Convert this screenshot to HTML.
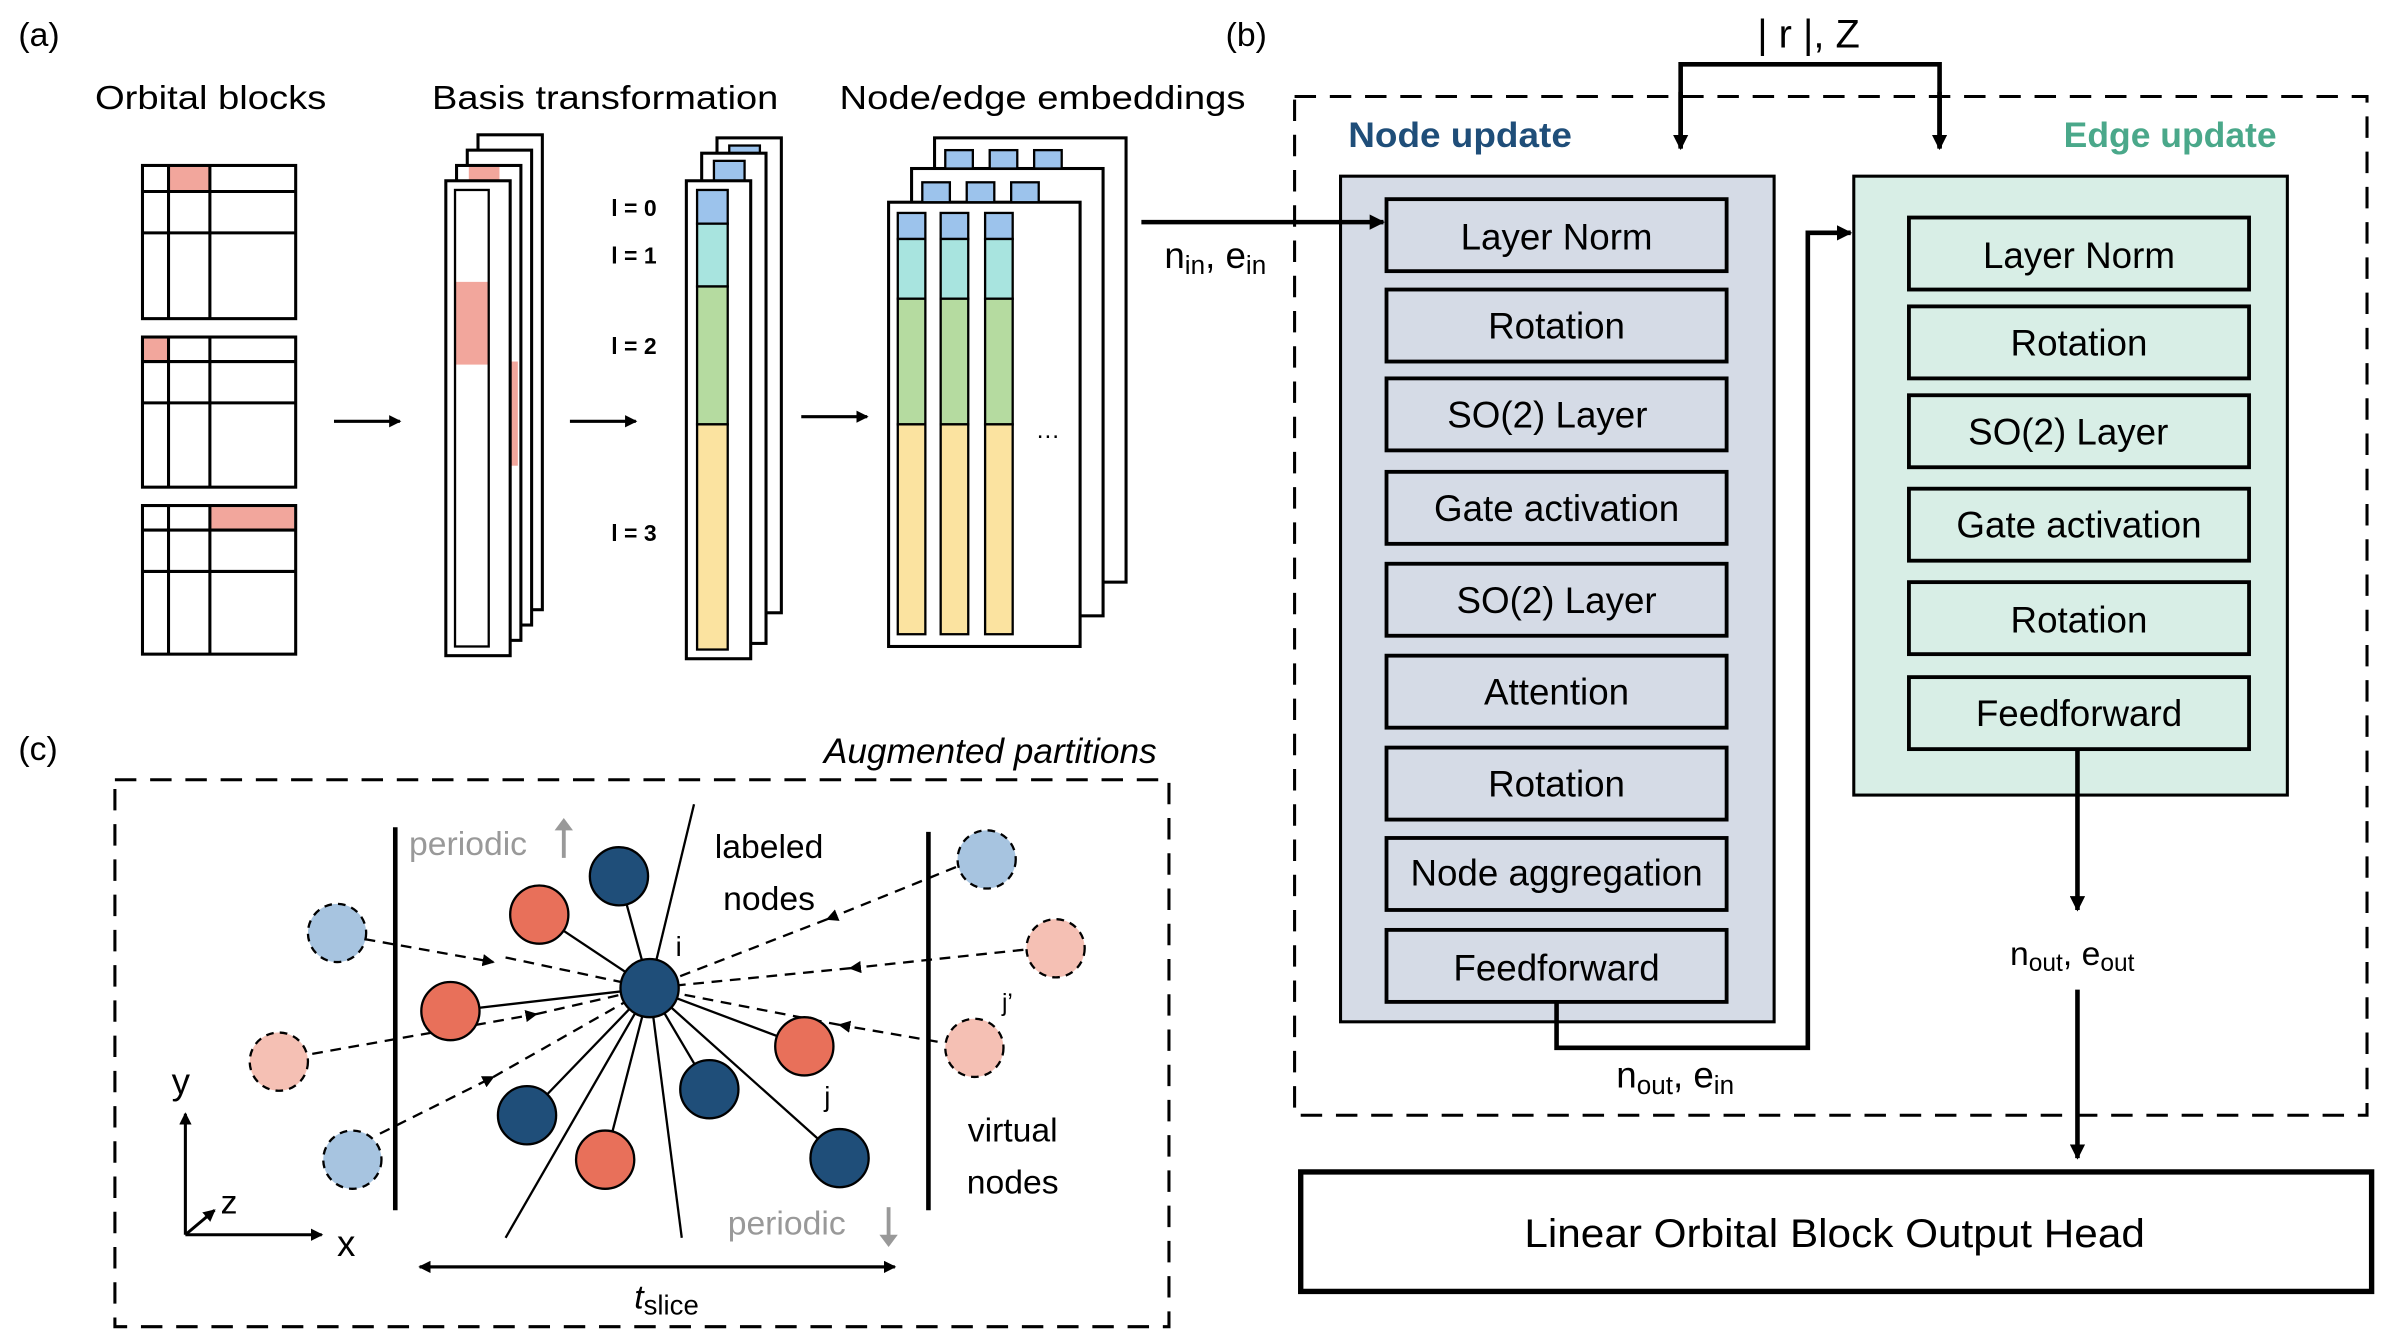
<!DOCTYPE html>
<html><head><meta charset="utf-8"><style>html,body{margin:0;padding:0;background:#fff}svg{display:block}text{font-family:"Liberation Sans",sans-serif}</style></head><body>
<svg width="2390" height="1338" viewBox="0 0 1560 873.4" preserveAspectRatio="none" xmlns="http://www.w3.org/2000/svg">
<defs>
<marker id="ah" markerWidth="10" markerHeight="10" refX="9" refY="5" orient="auto" markerUnits="userSpaceOnUse"><path d="M0,0 L10,5 L0,10 z" fill="#000"/></marker>
<marker id="ah2" markerWidth="8" markerHeight="8" refX="7" refY="4" orient="auto" markerUnits="userSpaceOnUse"><path d="M0,0 L8,4 L0,8 z" fill="#000"/></marker>
</defs>
<g font-size="22">
<text x="12" y="30">(a)</text>
<text x="62" y="71" textLength="151" lengthAdjust="spacingAndGlyphs">Orbital blocks</text>
<text x="282" y="71" textLength="226" lengthAdjust="spacingAndGlyphs">Basis transformation</text>
<text x="548" y="71" textLength="265" lengthAdjust="spacingAndGlyphs">Node/edge embeddings</text>
</g>
<!-- orbital blocks -->
<g stroke="#000" stroke-width="2" fill="none">
<rect x="110" y="109" width="27" height="16" fill="#f2a69c" stroke="none"/>
<rect x="93" y="108" width="100" height="100"/>
<line x1="110" y1="108" x2="110" y2="208"/><line x1="137" y1="108" x2="137" y2="208"/>
<line x1="93" y1="125" x2="193" y2="125"/><line x1="93" y1="152" x2="193" y2="152"/>
<rect x="94" y="221" width="16" height="15" fill="#f2a69c" stroke="none"/>
<rect x="93" y="220" width="100" height="98"/>
<line x1="110" y1="220" x2="110" y2="318"/><line x1="137" y1="220" x2="137" y2="318"/>
<line x1="93" y1="236" x2="193" y2="236"/><line x1="93" y1="263" x2="193" y2="263"/>
<rect x="137" y="331" width="55" height="15" fill="#f2a69c" stroke="none"/>
<rect x="93" y="330" width="100" height="97"/>
<line x1="110" y1="330" x2="110" y2="427"/><line x1="137" y1="330" x2="137" y2="427"/>
<line x1="93" y1="346" x2="193" y2="346"/><line x1="93" y1="373" x2="193" y2="373"/>
</g>
<g stroke="#000" stroke-width="2">
<line x1="218" y1="275" x2="261" y2="275" marker-end="url(#ah2)"/>
<line x1="372" y1="275" x2="415" y2="275" marker-end="url(#ah2)"/>
<line x1="523" y1="272" x2="566" y2="272" marker-end="url(#ah2)"/>
</g>
<!-- basis transformation -->
<g stroke="#000" stroke-width="2" fill="#fff">
<rect x="312" y="88" width="42" height="310"/>
<rect x="305" y="98" width="42" height="310"/>
<rect x="298" y="108" width="42" height="310"/>
<rect x="306" y="109" width="20" height="20" fill="#f2a69c" stroke="none"/>
<rect x="326" y="236" width="12" height="68" fill="#f2a69c" stroke="none"/>
<rect x="291" y="118" width="42" height="310"/>
<rect x="297" y="184" width="22" height="54" fill="#f2a69c" stroke="none"/>
<rect x="297" y="124" width="22" height="298" fill="none" stroke-width="1.5"/>
</g>
<g font-size="15" font-weight="bold"><text x="399" y="141">l = 0</text><text x="399" y="172">l = 1</text><text x="399" y="231">l = 2</text><text x="399" y="353">l = 3</text></g>
<g stroke="#000" stroke-width="2" fill="#fff">
<rect x="468" y="90" width="42" height="310"/>
<rect x="476" y="95" width="20" height="12" fill="#9cc3ec" stroke-width="1.5"/>
<rect x="458" y="100" width="42" height="320"/>
<rect x="466" y="105" width="20" height="14" fill="#9cc3ec" stroke-width="1.5"/>
<rect x="448" y="118" width="42" height="312"/>
</g>
<g stroke="#000" stroke-width="1.5">
<rect x="455" y="124" width="20" height="22" fill="#9cc3ec"/>
<rect x="455" y="146" width="20" height="41" fill="#a8e4df"/>
<rect x="455" y="187" width="20" height="90" fill="#b5dba0"/>
<rect x="455" y="277" width="20" height="147" fill="#fbe3a0"/>
</g>
<!-- embeddings -->
<g stroke="#000" stroke-width="2" fill="#fff">
<rect x="610" y="90" width="125" height="290"/>
<rect x="595" y="110" width="125" height="292"/>
<rect x="580" y="132" width="125" height="290"/>
</g>
<g stroke="#000" stroke-width="1.5" fill="#9cc3ec">
<rect x="617" y="98" width="18" height="12"/><rect x="646" y="98" width="18" height="12"/><rect x="675" y="98" width="18" height="12"/>
<rect x="602" y="119" width="18" height="13"/><rect x="631" y="119" width="18" height="13"/><rect x="660" y="119" width="18" height="13"/>
</g>
<g stroke="#000" stroke-width="1.5">
<g transform="translate(586,0)"><rect x="0" y="139" width="18" height="17" fill="#9cc3ec"/><rect x="0" y="156" width="18" height="39" fill="#a8e4df"/><rect x="0" y="195" width="18" height="82" fill="#b5dba0"/><rect x="0" y="277" width="18" height="137" fill="#fbe3a0"/></g>
<g transform="translate(614,0)"><rect x="0" y="139" width="18" height="17" fill="#9cc3ec"/><rect x="0" y="156" width="18" height="39" fill="#a8e4df"/><rect x="0" y="195" width="18" height="82" fill="#b5dba0"/><rect x="0" y="277" width="18" height="137" fill="#fbe3a0"/></g>
<g transform="translate(643,0)"><rect x="0" y="139" width="18" height="17" fill="#9cc3ec"/><rect x="0" y="156" width="18" height="39" fill="#a8e4df"/><rect x="0" y="195" width="18" height="82" fill="#b5dba0"/><rect x="0" y="277" width="18" height="137" fill="#fbe3a0"/></g>
</g>
<text x="676" y="286" font-size="16">…</text>
<!-- panel b -->
<text x="800" y="30" font-size="22">(b)</text>
<rect x="845" y="63" width="700" height="665" fill="none" stroke="#000" stroke-width="2" stroke-dasharray="14,9"/>
<text x="1147" y="31" font-size="26">| r |, Z</text>
<polyline points="1097,96 1097,42 1266,42 1266,96" fill="none" stroke="#000" stroke-width="3"/>
<line x1="1097" y1="60" x2="1097" y2="97" stroke="#000" stroke-width="3" marker-end="url(#ah)"/>
<line x1="1266" y1="60" x2="1266" y2="97" stroke="#000" stroke-width="3" marker-end="url(#ah)"/>
<text x="880" y="96" font-size="23" font-weight="bold" fill="#1f4e79" textLength="146" lengthAdjust="spacingAndGlyphs">Node update</text>
<text x="1347" y="96" font-size="23" font-weight="bold" fill="#4aa88a" textLength="139" lengthAdjust="spacingAndGlyphs">Edge update</text>
<rect x="875" y="115" width="283" height="552" fill="#d5dbe6" stroke="#000" stroke-width="2"/>
<rect x="1210" y="115" width="283" height="404" fill="#d8eee6" stroke="#000" stroke-width="2"/>
<g stroke="#000" stroke-width="2.5" fill="none">
<rect x="905" y="130" width="222" height="47"/><rect x="905" y="189" width="222" height="47"/><rect x="905" y="247" width="222" height="47"/>
<rect x="905" y="308" width="222" height="47"/><rect x="905" y="368" width="222" height="47"/><rect x="905" y="428" width="222" height="47"/>
<rect x="905" y="488" width="222" height="47"/><rect x="905" y="547" width="222" height="47"/><rect x="905" y="607" width="222" height="47"/>
<rect x="1246" y="142" width="222" height="47"/><rect x="1246" y="200" width="222" height="47"/><rect x="1246" y="258" width="222" height="47"/>
<rect x="1246" y="319" width="222" height="47"/><rect x="1246" y="380" width="222" height="47"/><rect x="1246" y="442" width="222" height="47"/>
</g>
<g font-size="24" text-anchor="middle">
<text x="1016" y="163">Layer Norm</text><text x="1016" y="221">Rotation</text><text x="1010" y="279">SO(2) Layer</text>
<text x="1016" y="340">Gate activation</text><text x="1016" y="400">SO(2) Layer</text><text x="1016" y="460">Attention</text>
<text x="1016" y="520">Rotation</text><text x="1016" y="578">Node aggregation</text><text x="1016" y="640">Feedforward</text>
<text x="1357" y="175">Layer Norm</text><text x="1357" y="232">Rotation</text><text x="1350" y="290">SO(2) Layer</text>
<text x="1357" y="351">Gate activation</text><text x="1357" y="413">Rotation</text><text x="1357" y="474">Feedforward</text>
</g>
<line x1="745" y1="145" x2="903" y2="145" stroke="#000" stroke-width="3" marker-end="url(#ah)"/>
<text x="760" y="175" font-size="24">n<tspan font-size="17" dy="4">in</tspan><tspan dy="-4">, e</tspan><tspan font-size="17" dy="4">in</tspan></text>
<polyline points="1016,654 1016,684 1180,684 1180,152 1208,152" fill="none" stroke="#000" stroke-width="3" marker-end="url(#ah)"/>
<text x="1055" y="710" font-size="24">n<tspan font-size="17" dy="4">out</tspan><tspan dy="-4">, e</tspan><tspan font-size="17" dy="4">in</tspan></text>
<line x1="1356" y1="489" x2="1356" y2="594" stroke="#000" stroke-width="3" marker-end="url(#ah)"/>
<text x="1312" y="630" font-size="22">n<tspan font-size="16" dy="4">out</tspan><tspan dy="-4">, e</tspan><tspan font-size="16" dy="4">out</tspan></text>
<line x1="1356" y1="646" x2="1356" y2="756" stroke="#000" stroke-width="3" marker-end="url(#ah)"/>
<rect x="849" y="765" width="699" height="78" fill="none" stroke="#000" stroke-width="3.5"/>
<text x="995" y="814" font-size="26" textLength="405" lengthAdjust="spacingAndGlyphs">Linear Orbital Block Output Head</text>
<!-- panel c -->
<text x="12" y="496" font-size="22">(c)</text>
<text x="755" y="498" font-size="23" font-style="italic" text-anchor="end">Augmented partitions</text>
<rect x="75" y="509" width="688" height="357" fill="none" stroke="#000" stroke-width="2" stroke-dasharray="14,9"/>
<line x1="258" y1="540" x2="258" y2="790" stroke="#000" stroke-width="3"/>
<line x1="606" y1="543" x2="606" y2="790" stroke="#000" stroke-width="3"/>
<text x="267" y="558" font-size="22" fill="#999">periodic</text>
<line x1="368" y1="560" x2="368" y2="540" stroke="#999" stroke-width="2.5"/><path d="M362,542 L368,534 L374,542z" fill="#999"/>
<text x="475" y="806" font-size="22" fill="#999">periodic</text>
<line x1="580" y1="788" x2="580" y2="808" stroke="#999" stroke-width="2.5"/><path d="M574,806 L580,814 L586,806z" fill="#999"/>
<text x="502" y="560" font-size="22" text-anchor="middle">labeled</text>
<text x="502" y="594" font-size="22" text-anchor="middle">nodes</text>
<text x="661" y="745" font-size="22" text-anchor="middle">virtual</text>
<text x="661" y="779" font-size="22" text-anchor="middle">nodes</text>
<g stroke="#000" stroke-width="1.5">
<line x1="424" y1="645" x2="404" y2="572"/><line x1="424" y1="645" x2="352" y2="597"/><line x1="424" y1="645" x2="294" y2="660"/>
<line x1="424" y1="645" x2="344" y2="728"/><line x1="424" y1="645" x2="395" y2="757"/><line x1="424" y1="645" x2="463" y2="711"/>
<line x1="424" y1="645" x2="525" y2="683"/><line x1="424" y1="645" x2="548" y2="756"/><line x1="424" y1="645" x2="330" y2="808"/>
<line x1="424" y1="645" x2="445" y2="808"/><line x1="424" y1="645" x2="453" y2="525"/>
</g>
<g stroke="#000" stroke-width="1.5" stroke-dasharray="7,5">
<line x1="238" y1="613" x2="322" y2="628" marker-end="url(#ah2)"/>
<line x1="192" y1="690" x2="350" y2="662" marker-end="url(#ah2)"/>
<line x1="248" y1="740" x2="322" y2="703" marker-end="url(#ah2)"/>
<line x1="624" y1="566" x2="540" y2="600" marker-end="url(#ah2)"/>
<line x1="668" y1="620" x2="555" y2="632" marker-end="url(#ah2)"/>
<line x1="612" y1="680" x2="548" y2="669" marker-end="url(#ah2)"/>
<line x1="330" y1="625" x2="424" y2="645"/><line x1="350" y1="662" x2="424" y2="645"/><line x1="322" y1="703" x2="424" y2="645"/>
<line x1="540" y1="600" x2="424" y2="645"/><line x1="555" y1="632" x2="424" y2="645"/><line x1="548" y1="669" x2="424" y2="645"/>
</g>
<g stroke="#000" stroke-width="1.5">
<circle cx="404" cy="572" r="19" fill="#1f4e79"/><circle cx="352" cy="597" r="19" fill="#e8705a"/><circle cx="294" cy="660" r="19" fill="#e8705a"/>
<circle cx="344" cy="728" r="19" fill="#1f4e79"/><circle cx="395" cy="757" r="19" fill="#e8705a"/><circle cx="463" cy="711" r="19" fill="#1f4e79"/>
<circle cx="525" cy="683" r="19" fill="#e8705a"/><circle cx="548" cy="756" r="19" fill="#1f4e79"/><circle cx="424" cy="645" r="19" fill="#1f4e79"/>
</g>
<g stroke="#000" stroke-width="1.5" stroke-dasharray="5,4">
<circle cx="220" cy="609" r="19" fill="#a7c4e0"/><circle cx="182" cy="693" r="19" fill="#f5c0b4"/><circle cx="230" cy="757" r="19" fill="#a7c4e0"/>
<circle cx="644" cy="561" r="19" fill="#a7c4e0"/><circle cx="689" cy="619" r="19" fill="#f5c0b4"/><circle cx="636" cy="684" r="19" fill="#f5c0b4"/>
</g>
<text x="441" y="624" font-size="18">i</text>
<text x="538" y="722" font-size="18">j</text>
<text x="654" y="660" font-size="16">j’</text>
<g stroke="#000" stroke-width="2">
<line x1="121" y1="806" x2="121" y2="727" marker-end="url(#ah2)"/>
<line x1="121" y1="806" x2="210" y2="806" marker-end="url(#ah2)"/>
<line x1="121" y1="806" x2="140" y2="790" marker-end="url(#ah2)"/>
<line x1="274" y1="827" x2="584" y2="827" marker-end="url(#ah2)"/>
<line x1="584" y1="827" x2="274" y2="827" marker-end="url(#ah2)"/>
</g>
<text x="112" y="714" font-size="24">y</text>
<text x="220" y="820" font-size="24">x</text>
<text x="144" y="792" font-size="22">z</text>
<text x="414" y="854" font-size="22" font-style="italic">t<tspan font-style="normal" font-size="18" dy="4">slice</tspan></text>
</svg>
</body></html>
